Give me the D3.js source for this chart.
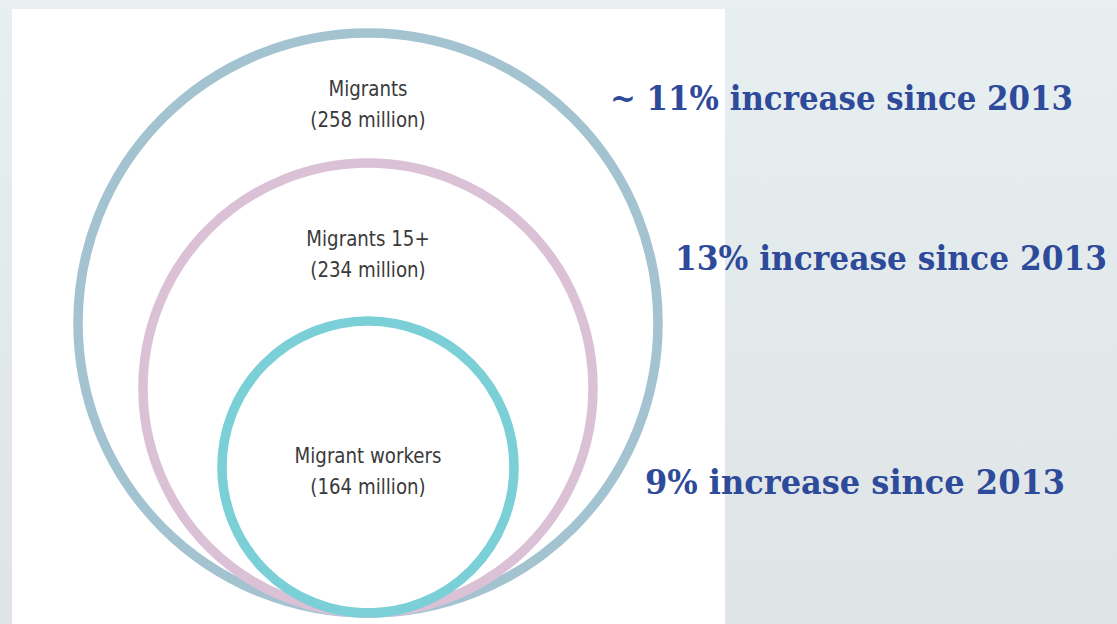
<!DOCTYPE html>
<html><head><meta charset="utf-8">
<script src="https://cdn.jsdelivr.net/npm/d3@7"></script>
<style>html,body{margin:0;padding:0;overflow:hidden;background:#e4ebed}</style>
</head><body>
<script>
const categories = ["Migrants", "Migrants 15+", "Migrant workers"];
const values = [258, 234, 164]; // millions
const increases = ["~ 11% increase since 2013", "13% increase since 2013", "9% increase since 2013"];
const colors = ["#a3c3d1", "#dbc1d6", "#7bcfd7"];

const W = 1117, H = 624;
const svg = d3.select("body").append("svg").attr("width", W).attr("height", H);
const defs = svg.append("defs");
const g = defs.append("linearGradient").attr("id","bg").attr("x1",0).attr("y1",0).attr("x2",0).attr("y2",1);
g.append("stop").attr("offset","0%").attr("stop-color","#e7eff1");
g.append("stop").attr("offset","100%").attr("stop-color","#dfe4e6");
svg.append("rect").attr("width",W).attr("height",H).attr("fill","url(#bg)");
svg.append("rect").attr("x",12).attr("y",9).attr("width",713).attr("height",H-9).attr("fill","#fff");

const rScale = d3.scaleOrdinal().domain(categories).range([290, 225, 146]);
const color = d3.scaleOrdinal().domain(categories).range(colors);
const cx = 368, baseY = 613;

const data = categories.map((c,i)=>({cat:c, value:values[i], inc:increases[i]}));

svg.selectAll("circle.ring").data(data).join("circle")
  .attr("class","ring")
  .attr("cx", cx)
  .attr("cy", d => baseY - rScale(d.cat))
  .attr("r", d => rScale(d.cat))
  .attr("fill","none")
  .attr("stroke", d => color(d.cat))
  .attr("stroke-width", 9.5);

const labelY = [96, 246, 463];
const font = "'Liberation Sans Narrow','DejaVu Sans Condensed','Roboto Condensed',sans-serif";
data.forEach((d,i)=>{
  const grp = svg.append("g").attr("transform",`translate(${cx},0) scale(0.92,1)`);
  const t = grp.append("text").attr("x",0).attr("text-anchor","middle")
    .attr("font-family",font).attr("font-size",22).attr("fill","#3a3a3a");
  t.append("tspan").attr("x",0).attr("y",labelY[i]).text(d.cat);
  t.append("tspan").attr("x",0).attr("y",labelY[i]+31).text(`(${d.value} million)`);
});

const incPos = [{x:610,y:110,w:463},{x:675,y:270,w:432},{x:645,y:494,w:420}];
data.forEach((d,i)=>{
  svg.append("text").attr("x",incPos[i].x).attr("y",incPos[i].y)
    .attr("font-family","Georgia,'DejaVu Serif','Liberation Serif',serif")
    .attr("font-weight","bold").attr("font-size",34).attr("fill","#2e4a9a")
    .attr("textLength",incPos[i].w).attr("lengthAdjust","spacingAndGlyphs")
    .text(d.inc);
});
</script>
</body></html>
